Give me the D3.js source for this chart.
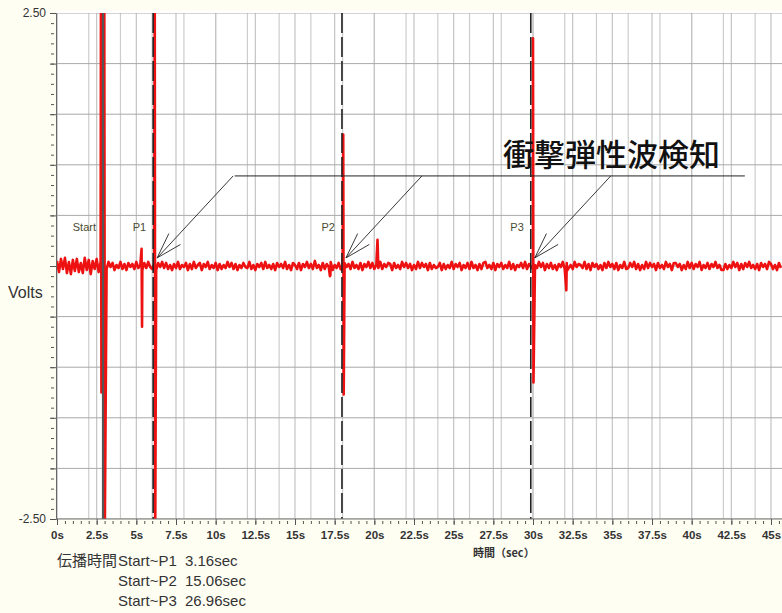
<!DOCTYPE html>
<html><head><meta charset="utf-8">
<script src="https://cdn.jsdelivr.net/npm/d3@7"></script>
<style>body{margin:0;background:#fffef3;overflow:hidden}</style>
</head><body>
<svg id="c" width="782" height="613"></svg>
<script>
// ---- data ----
// baseline noise, in 0.01 V, one sample every 0.125 s
const noiseStep = 0.125;
const noise = [
 5,-6,7,-3,8,-7,4,-8,6,-5,7,-6,3,-7,8,-4,6,-8,5,-3,7,-6,4,-5,
 2,-3,4,-1,3,-4,1,-2,4,-3,2,-4,3,-1,2,-3,4,-2,1,-4,3,-2,4,-1,
 -3,2,-4,3,-1,4,-2,3,-3,1,-4,2,-2,4,-3,1,-1,3,-4,2,-3,4,-2,1,
 3,-4,2,-1,4,-3,1,-2,3,-4,2,-3,1,-2,4,-1,3,-3,2,-4,1,-2,3,-1,
 -2,4,-3,1,-4,2,-1,3,-3,4,-2,1,-3,2,-4,3,-1,2,-2,4,-3,1,-4,3,
 1,-3,3,-4,2,-1,4,-2,2,-3,5,-2,1,-4,3,-3,2,-1,4,-4,1,-2,3,-3,
 -4,3,-1,2,-3,4,-2,1,-3,3,-4,2,-1,4,-2,3,-3,1,-2,4,-3,2,-1,3,
 2,-4,3,-2,1,-3,4,-1,3,-2,2,-4,1,-3,4,-2,3,-1,2,-4,3,-3,1,-2,
 -1,3,-4,2,-3,1,-2,4,-3,2,-1,3,-4,1,-2,3,-3,4,-2,1,-4,2,-3,3,
 4,-2,1,-3,3,-4,2,-1,3,-3,1,-2,4,-3,2,-4,1,-1,3,-2,4,-3,2,-1,
 -3,1,-2,4,-1,3,-4,2,-2,3,-3,1,-4,2,-1,4,-3,3,-2,1,-3,4,-1,2,
 1,-2,4,-3,2,-4,3,-1,2,-3,1,-4,3,-2,4,-1,2,-3,3,-4,1,-2,4,-3,
 -2,3,-1,4,-3,2,-4,1,-3,4,-2,3,-1,2,-4,3,-2,1,-3,4,-1,2,-4,3,
 3,-1,2,-4,1,-3,4,-2,3,-3,2,-1,4,-4,1,-2,3,-3,2,-1,4,-2,1,-4,
 -4,2,-3,1,-2,4,-1,3,-4,2,-3,3,-1,4,-2,1,-3,2,-4,3,-1,2,-3,4,
 2,-3,1,-4,3,-2
];
// impulse samples (s, V)
const spikeTimes  = [2.77, 2.80, 2.98, 3.01, 5.33, 5.36, 6.16, 6.19, 17.20, 17.23, 18.04, 18.07, 20.20, 30.00, 30.03, 32.10, 32.13];
const spikeValues = [2.70, -1.25, 2.70, -2.70, 0.17, -0.60, 2.70, -2.70, -0.10, -0.09, 1.30, -1.27, 0.26, 2.25, -1.15, -0.24, -0.05];

const markerNames = ["Start", "P1", "P2", "P3"];
const markerTimes = [2.90, 6.06, 17.96, 29.86];

const xTickValues = [0, 2.5, 5, 7.5, 10, 12.5, 15, 17.5, 20, 22.5, 25, 27.5, 30, 32.5, 35, 37.5, 40, 42.5, 45];
const xTickLabels = ["0s","2.5s","5s","7.5s","10s","12.5s","15s","17.5s","20s","22.5s","25s","27.5s","30s","32.5s","35s","37.5s","40s","42.5s","45s"];
const gridTwoSec = [0,2,4,6,8,10,12,14,16,18,20,22,24,26,28,30,32,34,36,38,40,42,44];
const yTickValues = [2.5, -2.5];
const yTickLabels = ["2.50", "-2.50"];

const propLabels = ["Start~P1", "Start~P2", "Start~P3"];
const propValues = ["3.16sec", "15.06sec", "26.96sec"];
const annotationText = "衝撃弾性波検知";

// ---- chart ----
(function () {
const svg = d3.select("#c");
const W = 782, H = 613;
const x = d3.scaleLinear().domain([0, 45]).range([57, 771]);
const y = d3.scaleLinear().domain([-2.5, 2.5]).range([519, 13]);
const pLeft = 56, pRight = W, pTop = 11, pBottom = 519;

svg.append("rect").attr("width", W).attr("height", H).attr("fill", "#fffef3");
svg.append("rect").attr("x", pLeft).attr("y", pTop).attr("width", pRight - pLeft).attr("height", pBottom - pTop).attr("fill", "#ffffff");

svg.append("defs").append("clipPath").attr("id", "clip")
  .append("rect").attr("x", pLeft).attr("y", 13).attr("width", pRight - pLeft).attr("height", pBottom - 13);

const g = svg.append("g").attr("clip-path", "url(#clip)");
g.selectAll(".v2").data(gridTwoSec).join("line")
  .attr("x1", d => x(d)).attr("x2", d => x(d)).attr("y1", 13).attr("y2", pBottom)
  .attr("stroke", "#cdcdcd").attr("stroke-width", 1.2);
g.selectAll(".v25").data(xTickValues).join("line")
  .attr("x1", d => x(d)).attr("x2", d => x(d)).attr("y1", 13).attr("y2", pBottom)
  .attr("stroke", "#c4c4c4").attr("stroke-width", 1.2);
g.selectAll(".h").data(d3.range(-2.5, 2.51, 0.5)).join("line")
  .attr("x1", pLeft).attr("x2", pRight).attr("y1", d => y(d)).attr("y2", d => y(d))
  .attr("stroke", "#a9a9a9").attr("stroke-width", 1);

const pts = noise.map((v, i) => [i * noiseStep, v / 100])
  .concat(spikeTimes.map((t, i) => [t, spikeValues[i]]))
  .sort((a, b) => a[0] - b[0]);
g.append("path").datum(pts)
  .attr("d", d3.line().x(d => x(d[0])).y(d => y(d[1])))
  .attr("fill", "none").attr("stroke", "#ee1111").attr("stroke-width", 2.6)
  .attr("stroke-linejoin", "round");

markerTimes.forEach((t, i) => {
  const ln = g.append("line").attr("x1", x(t)).attr("x2", x(t)).attr("y1", 13).attr("y2", pBottom);
  if (i === 0) ln.attr("stroke", "#555").attr("stroke-width", 2.2);
  else ln.attr("stroke", "#222").attr("stroke-width", 1.6).attr("stroke-dasharray", "20,4");
  svg.append("text").attr("x", x(t) - 7).attr("y", 231).attr("text-anchor", "end")
    .attr("font-family", "Liberation Sans, Arial, sans-serif").attr("font-size", 11)
    .attr("fill", "#4a4a30").text(markerNames[i]);
});

const yMajor = svg.append("g").attr("transform", `translate(${pLeft},0)`)
  .call(d3.axisLeft(y).tickValues(d3.range(-2.5, 2.51, 0.5)).tickSize(6).tickFormat(""));
const yMinor = svg.append("g").attr("transform", `translate(${pLeft - 2},0)`)
  .call(d3.axisLeft(y).tickValues(d3.range(-2.5, 2.51, 0.1)).tickSize(3).tickFormat(""));
yMinor.select(".domain").remove();
[yMajor, yMinor].forEach(a => { a.selectAll("line").attr("stroke", "#555"); a.select(".domain").attr("stroke", "#666"); });
svg.append("g").selectAll("text").data(yTickValues).join("text")
  .attr("x", 46).attr("y", d => y(d) + 4).attr("text-anchor", "end")
  .attr("font-family", "Liberation Sans, Arial, sans-serif").attr("font-size", 12).attr("fill", "#333")
  .text((d, i) => yTickLabels[i]);

const xMajor = svg.append("g").attr("transform", `translate(0,${pBottom})`)
  .call(d3.axisBottom(x).tickValues(xTickValues).tickSize(6).tickFormat((d, i) => xTickLabels[i]));
xMajor.select(".domain").attr("d", `M${pLeft},0H${pRight}`).attr("stroke", "#777");
xMajor.selectAll("line").attr("stroke", "#555");
xMajor.selectAll("text").attr("dy", "1.05em").attr("y", 8)
  .attr("font-family", "Liberation Sans, Arial, sans-serif").attr("font-size", 11.5)
  .attr("font-weight", "bold").attr("fill", "#333");
const xMinor = svg.append("g").attr("transform", `translate(0,${pBottom + 2})`)
  .call(d3.axisBottom(x).tickValues(d3.range(0, 45.6, 0.5)).tickSize(3).tickFormat(""));
xMinor.select(".domain").remove();
xMinor.selectAll("line").attr("stroke", "#555");

svg.append("text").attr("x", 8).attr("y", 298)
  .attr("font-family", "Liberation Sans, Arial, sans-serif").attr("font-size", 16).attr("fill", "#333").text("Volts");
svg.append("text").attr("x", 473).attr("y", 557)
  .attr("font-family", "Noto Sans CJK JP, sans-serif").attr("font-size", 11).attr("font-weight", "bold")
  .attr("fill", "#333").text("時間（sec）");

svg.append("text").attr("x", 57).attr("y", 566)
  .attr("font-family", "Noto Sans CJK JP, sans-serif").attr("font-size", 15).attr("fill", "#333").text("伝播時間");
propLabels.forEach((s, i) => {
  svg.append("text").attr("x", 118).attr("y", 566 + i * 20)
    .attr("font-family", "Liberation Sans, Arial, sans-serif").attr("font-size", 15).attr("fill", "#333").text(s);
  svg.append("text").attr("x", 185).attr("y", 566 + i * 20)
    .attr("font-family", "Liberation Sans, Arial, sans-serif").attr("font-size", 15).attr("fill", "#333").text(propValues[i]);
});

const annY = y(0.89);
svg.append("line").attr("x1", x(11.2)).attr("x2", x(43.35)).attr("y1", annY).attr("y2", annY)
  .attr("stroke", "#222").attr("stroke-width", 1);
markerTimes.slice(1).forEach(t => {
  const tx = x(t) + 4, ty = y(0.08);
  const sx = x(t) + 80, sy = annY;
  svg.append("line").attr("x1", sx).attr("y1", sy).attr("x2", tx).attr("y2", ty)
    .attr("stroke", "#222").attr("stroke-width", 0.9);
  const ang = Math.atan2(sy - ty, sx - tx);
  [-0.3, 0.3].forEach(da => {
    svg.append("line").attr("x1", tx).attr("y1", ty)
      .attr("x2", tx + 27 * Math.cos(ang + da)).attr("y2", ty + 27 * Math.sin(ang + da))
      .attr("stroke", "#222").attr("stroke-width", 0.9);
  });
});
svg.append("text").attr("x", 503).attr("y", 166)
  .attr("font-family", "Noto Sans CJK JP, sans-serif").attr("font-size", 31).attr("font-weight", 500).attr("fill", "#111")
  .text(annotationText);
})();
</script>
</body></html>
